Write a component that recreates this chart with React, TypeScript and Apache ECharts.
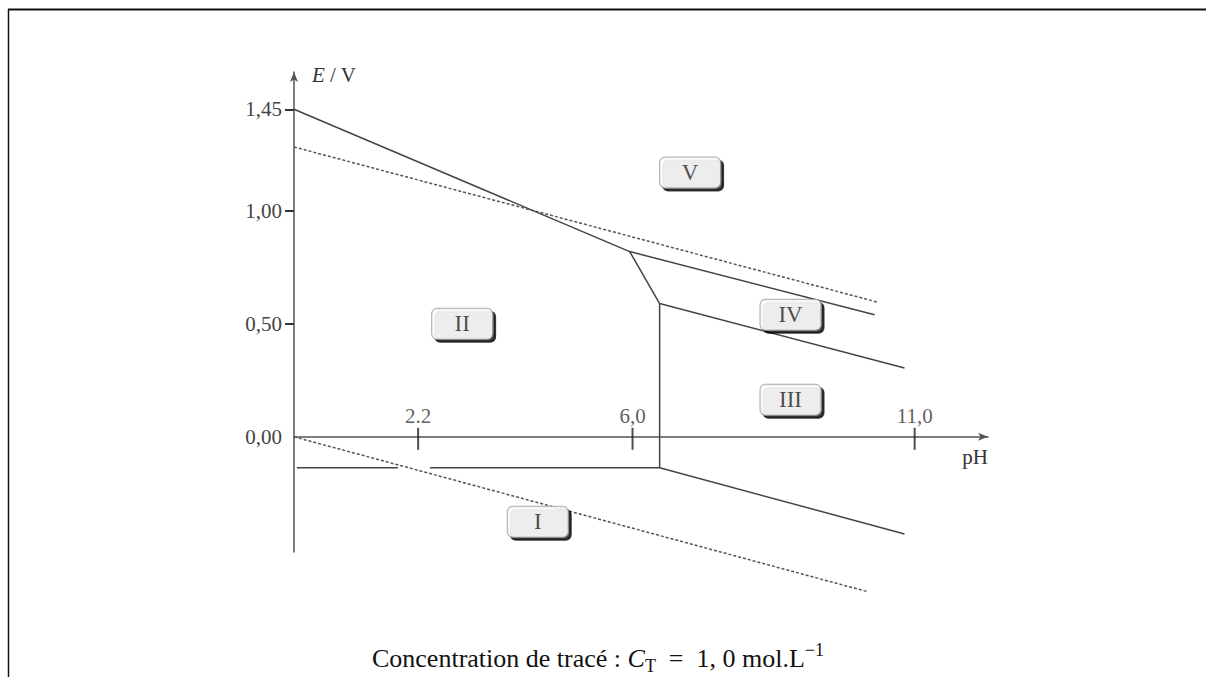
import React, { useEffect, useRef } from 'react';
import * as echarts from 'echarts';

// Axis ranges and ticks
const xMin = 0;
const xMax = 12.3;
const yMin = -0.51;
const yMax = 1.615;
const yTickValues = [0.5, 1.0, 1.45];
const yLabelValues = [0, 0.5, 1.0, 1.45];
const yLabelTexts = ['0,00', '0,50', '1,00', '1,45'];
const xTickValues = [2.2, 6.0, 11.0];
const xTickLabels = ['2.2', '6,0', '11,0'];

// Boundaries (pH, E/V)
const lineA = [[0, 1.45], [5.95, 0.82], [10.29, 0.54]];
const lineB = [[5.95, 0.82], [6.48, 0.59], [10.82, 0.305]];
const lineC = [[6.48, 0.59], [6.48, -0.137]];
const lineD1 = [[0.05, -0.137], [1.84, -0.137]];
const lineD2 = [[2.41, -0.137], [6.48, -0.137], [10.82, -0.43]];
const dottedO2 = [[0, 1.283], [10.33, 0.597]];
const dottedH2 = [[0, 0], [10.17, -0.686]];

// Region labels
const regionNames = ['V', 'II', 'IV', 'III', 'I'];
const regionPH = [7.02, 2.98, 8.8, 8.8, 4.32];
const regionE = [1.17, 0.5, 0.54, 0.164, -0.376];

const SERIF = '"Liberation Serif", "Times New Roman", serif';

export default function App() {
  const ref = useRef<HTMLDivElement>(null);
  useEffect(() => {
    if (!ref.current) return;
    const chart = echarts.init(ref.current, null, { renderer: 'svg' });
    const solid = { color: '#444', width: 1.5 };
    const dotted = { color: '#555', width: 1.5, type: [3, 2] as any };
    const mkLine = (data: number[][], style: any) => ({
      type: 'line',
      data,
      showSymbol: false,
      symbol: 'none',
      silent: true,
      clip: false,
      lineStyle: style,
      z: 3,
    });
    chart.setOption({
      animation: false,
      backgroundColor: '#fff',
      grid: { left: 294, right: 218, top: 72, bottom: 125 },
      xAxis: {
        type: 'value',
        min: xMin,
        max: xMax,
        name: 'pH',
        nameLocation: 'end',
        nameGap: 0,
        nameTextStyle: {
          fontFamily: SERIF,
          fontSize: 21,
          color: '#333',
          align: 'right',
          verticalAlign: 'top',
          padding: [10, 0, 0, 0],
        },
        axisLine: {
          onZero: true,
          symbol: ['none', 'arrow'],
          symbolSize: [6, 10],
          lineStyle: { color: '#555', width: 1.5 },
        },
        axisTick: { show: false },
        splitLine: { show: false },
        axisLabel: { show: false },
      },
      yAxis: {
        type: 'value',
        min: yMin,
        max: yMax,
        name: '{i|E} / V',
        nameLocation: 'end',
        nameGap: -3,
        nameTextStyle: {
          fontFamily: SERIF,
          fontSize: 21,
          color: '#333',
          align: 'left',
          verticalAlign: 'middle',
          padding: [0, 0, 0, 18],
          rich: { i: { fontStyle: 'italic', fontFamily: SERIF, fontSize: 21, color: '#333' } },
        },
        axisLine: {
          onZero: false,
          symbol: ['none', 'arrow'],
          symbolSize: [6, 10],
          lineStyle: { color: '#555', width: 1.5 },
        },
        axisTick: {
          show: true,
          customValues: yTickValues,
          length: 9,
          lineStyle: { color: '#333', width: 2 },
        },
        splitLine: { show: false },
        axisLabel: {
          customValues: yLabelValues,
          margin: 12,
          fontFamily: SERIF,
          fontSize: 21,
          color: '#444',
          formatter: (v: number) => {
            const i = yLabelValues.findIndex((t) => Math.abs(t - v) < 1e-6);
            return i >= 0 ? yLabelTexts[i] : '';
          },
        },
      },
      series: [
        mkLine(lineA, solid),
        mkLine(lineB, solid),
        mkLine(lineC, solid),
        mkLine(lineD1, solid),
        mkLine(lineD2, solid),
        mkLine(dottedO2, dotted),
        mkLine(dottedH2, dotted),
        {
          type: 'scatter',
          silent: true,
          symbol: 'rect',
          symbolSize: [2, 22],
          symbolOffset: [0, 2],
          itemStyle: { color: '#222' },
          data: xTickValues.map((v) => [v, 0]),
          z: 4,
        },
        {
          type: 'scatter',
          silent: true,
          symbolSize: 0,
          data: xTickValues.map((v, i) => ({ name: xTickLabels[i], value: [v, 0] })),
          label: {
            show: true,
            position: 'top',
            distance: 10,
            formatter: '{b}',
            fontFamily: SERIF,
            fontSize: 21,
            color: '#333',
          },
          z: 4,
        },
        {
          type: 'scatter',
          silent: true,
          symbolSize: 0,
          data: regionNames.map((n, i) => ({ name: n, value: [regionPH[i], regionE[i]] })),
          label: {
            show: true,
            position: 'inside',
            formatter: '{b}',
            fontFamily: SERIF,
            fontSize: 23,
            color: '#222',
            width: 60,
            height: 30,
            lineHeight: 30,
            align: 'center',
            verticalAlign: 'middle',
            backgroundColor: '#fff',
            borderColor: '#999',
            borderWidth: 1,
            borderRadius: 5,
            shadowColor: 'rgba(0,0,0,0.95)',
            shadowBlur: 1,
            shadowOffsetX: 3,
            shadowOffsetY: 3,
          },
          z: 5,
        },
      ],
      graphic: [
        {
          type: 'line',
          shape: { x1: 8, y1: 9.5, x2: 1206, y2: 9.5 },
          style: { stroke: '#111', lineWidth: 2 },
          silent: true,
        },
        {
          type: 'line',
          shape: { x1: 8.5, y1: 9, x2: 8.5, y2: 677 },
          style: { stroke: '#111', lineWidth: 1.5 },
          silent: true,
        },
        {
          type: 'text',
          x: 598,
          y: 658,
          silent: true,
          style: {
            text: '{n|Concentration de tracé : }{i|C}{sub|T}{n|  =  1, 0 mol.L}{sup|−1}',
            align: 'center',
            verticalAlign: 'middle',
            fill: '#111',
            rich: {
              n: { fontFamily: SERIF, fontSize: 26, lineHeight: 34, fill: '#111' },
              i: { fontFamily: SERIF, fontSize: 26, lineHeight: 34, fontStyle: 'italic', fill: '#111' },
              sub: { fontFamily: SERIF, fontSize: 18, lineHeight: 18, verticalAlign: 'bottom', fill: '#111' },
              sup: { fontFamily: SERIF, fontSize: 18, lineHeight: 18, verticalAlign: 'top', fill: '#111' },
            },
          },
        },
      ],
    });
    return () => chart.dispose();
  }, []);
  return (
    <div
      ref={ref}
      style={{ position: 'fixed', left: 0, top: 0, width: 1206, height: 677 }}
    />
  );
}
